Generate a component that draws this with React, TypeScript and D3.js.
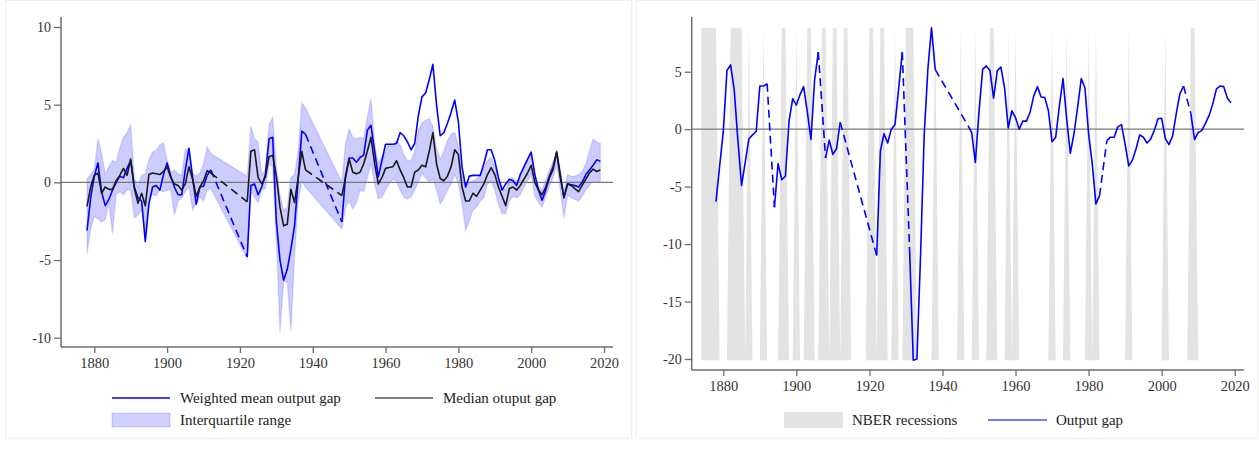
import { useEffect, useRef } from 'react';
import * as d3 from 'd3';

// annual series start in 1878 and run to 2019, null = no data for that year
const firstYear = 1878;

// weighted mean output gap across countries
const meanGap: (number | null)[] = [
  -3.1, -1.0,
  0.4, 1.25, -0.6, -1.5, -1.1, -0.5, 0.0, 0.4, 0.3, 0.9,
  1.4, -0.3, -1.0, -1.2, -3.8, -1.4, -0.3, -0.2, -0.5, 0.5,
  1.25, 0.4, -0.3, -0.8, -0.8, 0.8, 2.2, 0.3, -1.4, -0.3,
  -0.25, 0.45, 0.8, null, null, null, null, null, null, null,
  null, null, -4.8, -0.2, -0.1, -0.8, -0.3, 0.5, 2.8, 2.9,
  -2.5, -5.0, -6.3, -5.6, -4.3, -2.8, 0.2, 3.3, 3.1, null,
  null, null, null, null, null, null, null, null, -2.55, 0.4,
  1.57, 1.57, 1.3, 1.6, 1.75, 3.35, 3.67, 2.0, 0.35, 1.4,
  2.45, 2.45, 2.45, 2.5, 3.2, 3.0, 2.6, 2.1, 2.5, 4.3,
  5.5, 5.75, 6.6, 7.6, 5.0, 3.0, 3.2, 3.8, 4.5, 5.3,
  3.9, 1.0, -0.3, 0.4, 0.45, 0.45, 0.45, 1.2, 2.1, 2.1,
  1.4, 0.3, -0.5, -0.1, 0.2, 0.1, -0.2, 0.5, 1.0, 1.5,
  1.95, 0.5, -0.5, -1.15, -0.5, 0.3, 0.8, 1.95, 0.5, -1.0,
  -0.1, -0.15, -0.2, -0.3, 0.0, 0.5, 0.8, 1.1, 1.45, 1.35,
];

// median output gap
const medianGap: (number | null)[] = [
  -1.55, -0.3,
  0.45, 0.6, -0.7, -0.3, -0.45, -0.45, 0.1, 0.45, 0.9, 0.45,
  1.5, -0.4, -1.35, -0.7, -1.5, 0.5, 0.6, 0.55, 0.5, 0.7,
  1.0, 0.3, -0.1, -0.2, -0.5, -0.1, 1.0, 0.2, -0.9, -0.3,
  0.1, 0.75, 0.6, null, null, null, null, null, null, null,
  null, null, -1.25, 2.0, 2.1, 0.3, -0.1, 0.35, 1.65, 1.75,
  0.4, -1.6, -2.8, -2.7, -0.45, -1.3, 0.3, 2.0, 0.8, null,
  null, null, null, null, null, null, null, null, -0.85, 0.3,
  1.5, 0.65, 0.55, 0.65, 1.2, 2.0, 2.9, 1.2, -0.1, 0.3,
  0.9, 0.95, 1.0, 1.4, 0.8, 0.3, -0.3, -0.3, 0.65, 0.8,
  1.1, 1.0, 2.0, 3.2, 1.2, 0.25, 0.1, 0.4, 1.0, 2.1,
  1.8, -0.3, -1.2, -1.2, -0.7, -0.9, -0.5, -0.1, 0.5, 0.95,
  0.5, -0.3, -0.9, -1.5, -0.4, -0.3, -0.5, -0.2, 0.2, 0.6,
  1.1, 0.0, -0.5, -0.8, -0.3, 0.4, 1.0, 1.95, 0.3, -0.95,
  -0.1, -0.2, -0.4, -0.6, -0.2, 0.2, 0.6, 0.85, 0.7, 0.8,
];

// interquartile range, 75th percentile
const iqrHigh: (number | null)[] = [
  0.2, 0.5,
  0.8, 2.8, 1.85, 0.55, 1.0, 1.4, 1.3, 2.2, 2.9, 3.2,
  3.7, 0.3, -0.3, 0.45, 0.55, 1.45, 1.95, 2.05, 2.4, 2.55,
  1.4, 0.65, 0.8, 0.55, 0.45, 2.15, 2.05, 0.6, 0.4, 0.6,
  1.2, 2.27, 1.85, null, null, null, null, null, null, null,
  null, null, 0.4, 3.6, 2.8, 2.6, 0.5, 0.8, 3.7, 4.2,
  1.0, -0.8, -1.8, -1.6, 0.3, 0.5, 2.0, 5.1, 4.8, null,
  null, null, null, null, null, null, null, null, 0.0, 2.5,
  3.45, 2.9, 2.8, 2.9, 2.8, 4.2, 5.4, 2.5, 1.2, 1.7,
  2.0, 2.5, 2.3, 2.7, 2.4, 1.8, 1.4, 1.4, 2.0, 3.35,
  3.8, 4.0, 4.1, 3.6, 2.2, 1.5, 2.0, 2.7, 3.1, 3.2,
  2.3, 0.4, -0.2, 0.0, 0.1, 0.2, 0.5, 0.9, 1.4, 1.6,
  1.0, 0.4, -0.3, -0.5, 0.2, 0.3, 0.0, 0.4, 1.0, 1.4,
  1.8, 0.6, -0.2, -0.5, 0.2, 0.8, 1.3, 2.1, 0.8, -0.6,
  0.5, 0.4, 0.4, 0.5, 0.7, 1.2, 2.0, 2.8, 2.6, 2.5,
];

// interquartile range, 25th percentile
const iqrLow: (number | null)[] = [
  -4.6, -3.0,
  -2.2, -2.35, -2.55, -2.4, -1.3, -3.3, -0.8, -0.6, -0.8, -0.5,
  -0.5, -2.3, -2.1, -1.8, -3.2, -0.95, -0.8, -0.85, -0.5, -0.6,
  -0.5, -0.5, -2.1, -1.2, -1.0, -0.6, -0.3, -1.8, -1.4, -0.95,
  -1.2, -0.5, -0.4, null, null, null, null, null, null, null,
  null, null, -4.9, -0.5, -0.95, -1.3, -0.5, -0.4, 1.2, 1.0,
  -3.7, -9.6, -6.4, -6.4, -9.6, -4.8, -1.2, 0.1, -0.3, null,
  null, null, null, null, null, null, null, null, -3.0, -1.6,
  -1.2, -1.7, -1.3, -0.5, -0.6, 0.3, 1.2, -0.1, -1.05, -0.95,
  -0.5, -0.1, 0.2, 0.1, -0.5, -0.95, -1.05, -0.95, -0.5, 0.0,
  0.6, 0.3, 0.0, 0.2, -0.5, -1.4, -1.0, -0.5, -0.1, 0.5,
  -0.1, -1.4, -3.1, -2.5, -1.8, -1.6, -1.2, -1.0, -0.1, 0.1,
  -0.5, -1.4, -2.0, -2.0, -1.2, -0.9, -1.0, -0.8, -0.3, 0.1,
  0.5, -0.9, -1.3, -1.6, -0.9, -0.3, 0.3, 1.2, -0.5, -2.3,
  -0.8, -1.0, -1.1, -1.2, -0.9, -0.5, -0.2, 0.1, 0.0, 0.0,
];

// US output gap
const usGap: (number | null)[] = [
  -6.3, -3.2,
  -0.2, 5.1, 5.6, 3.4, -1.0, -4.9, -2.9, -0.85, -0.5, -0.2,
  3.75, 3.75, 3.95, null, -6.8, -3.0, -4.4, -4.1, 0.7, 2.65,
  2.1, 3.0, 3.7, 1.5, -0.9, 4.3, 6.7, null, -2.5, -0.95,
  -2.2, -1.7, 0.6, null, null, null, null, null, null, null,
  null, null, -11.0, -1.9, -0.4, -1.2, 0.0, 0.4, 3.5, 6.7,
  null, -10.5, -20.1, -20.0, -11.0, -0.5, 5.2, 8.83, 5.2, null,
  null, null, null, null, null, null, null, 0.3, -0.3, -2.9,
  1.5, 5.2, 5.5, 5.1, 2.7, 5.1, 5.4, 3.6, 0.1, 1.6,
  1.0, 0.0, 0.7, 0.7, 1.5, 2.9, 3.7, 2.8, 2.75, 1.6,
  -1.1, -0.7, 2.0, 4.4, 0.9, -2.1, -0.4, 1.9, 4.4, 3.6,
  -0.4, -3.0, -6.5, -5.8, null, -1.0, -0.7, -0.7, 0.2, 0.4,
  -1.3, -3.2, -2.7, -1.7, -0.5, -0.7, -1.2, -0.85, -0.1, 0.9,
  0.95, -0.8, -1.35, -0.6, 1.35, 3.1, 3.75, null, 1.35, -0.9,
  -0.3, -0.1, 0.5, 1.2, 2.2, 3.5, 3.75, 3.7, 2.7, 2.3,
];

// years flagged as NBER recession years (annual indicator)
const recessionFirstYear = 1874;
const recessionYears = [
  1874, 1875, 1876, 1877, 1878, 1882, 1883, 1884, 1885, 1887, 1891, 1896, 1897,
  1900, 1903, 1904, 1907, 1908, 1910, 1911, 1913, 1914, 1920, 1921, 1923, 1924,
  1927, 1930, 1931, 1932, 1938, 1945, 1949, 1953, 1954, 1958, 1960, 1970, 1974,
  1980, 1982, 1991, 2001, 2008, 2009,
];

const xTicks = [1880, 1900, 1920, 1940, 1960, 1980, 2000, 2020];
const leftYTicks = [-10, -5, 0, 5, 10];
const rightYTicks = [-20, -15, -10, -5, 0, 5];

type Pt = { year: number; v: number | null };
const toPoints = (vals: (number | null)[]): Pt[] =>
  vals.map((v, i) => ({ year: firstYear + i, v }));

// pairs of defined points that straddle a run of missing years
const gapSegments = (pts: Pt[]) => {
  const segs: [Pt, Pt][] = [];
  let last: Pt | null = null;
  let gap = false;
  pts.forEach((p) => {
    if (p.v == null) {
      if (last) gap = true;
    } else {
      if (gap && last) segs.push([last, p]);
      last = p;
      gap = false;
    }
  });
  return segs;
};

const serif = "'Liberation Serif', 'Times New Roman', serif";

const App = () => {
  const svgRef = useRef<SVGSVGElement>(null);

  useEffect(() => {
    if (!svgRef.current) return;
    const svg = d3.select(svgRef.current);
    svg.selectAll('*').remove();

    // panel frames
    svg.append('rect').attr('x', 5.5).attr('y', 0.5).attr('width', 626).attr('height', 438)
      .attr('fill', 'none').attr('stroke', '#efefef');
    svg.append('rect').attr('x', 636.5).attr('y', 0.5).attr('width', 621).attr('height', 438)
      .attr('fill', 'none').attr('stroke', '#efefef');

    const drawAxes = (
      g: d3.Selection<SVGGElement, unknown, null, undefined>,
      x: d3.ScaleLinear<number, number>,
      y: d3.ScaleLinear<number, number>,
      yTicks: number[],
      axisLeft: number,
      axisRight: number,
      axisTop: number,
      axisBottom: number
    ) => {
      // zero reference line
      g.append('line')
        .attr('x1', axisLeft).attr('x2', axisRight)
        .attr('y1', y(0)).attr('y2', y(0))
        .attr('stroke', '#7a7a7a').attr('stroke-width', 1.2);

      const yAxis = g.append('g').attr('transform', `translate(${axisLeft},0)`)
        .call(d3.axisLeft(y).tickValues(yTicks).tickSize(7).tickPadding(3).tickFormat((d) => String(d)));
      yAxis.select('.domain').attr('d', `M0,${axisTop}V${axisBottom}`);
      const xAxis = g.append('g').attr('transform', `translate(0,${axisBottom})`)
        .call(d3.axisBottom(x).tickValues(xTicks).tickSize(6).tickPadding(5).tickFormat((d) => String(d)));
      xAxis.select('.domain').attr('d', `M${axisLeft},0H${axisRight}`);
      [yAxis, xAxis].forEach((a) => {
        a.select('.domain').attr('stroke', '#6e6e6e').attr('stroke-width', 1.5);
        a.selectAll('.tick line').attr('stroke', '#6e6e6e').attr('stroke-width', 1.3);
        a.selectAll('.tick text').attr('font-family', serif).attr('font-size', 14).attr('fill', '#333');
      });
      xAxis.selectAll('.tick text').attr('font-size', 14.5);
    };

    const drawSeries = (
      g: d3.Selection<SVGGElement, unknown, null, undefined>,
      pts: Pt[],
      x: d3.ScaleLinear<number, number>,
      y: d3.ScaleLinear<number, number>,
      color: string,
      width: number
    ) => {
      const line = d3.line<Pt>().defined((d) => d.v != null)
        .x((d) => x(d.year)).y((d) => y(d.v as number));
      g.append('path').datum(pts).attr('d', line)
        .attr('fill', 'none').attr('stroke', color).attr('stroke-width', width)
        .attr('stroke-linejoin', 'round');
      g.selectAll(null).data(gapSegments(pts)).enter().append('line')
        .attr('x1', (d) => x(d[0].year)).attr('y1', (d) => y(d[0].v as number))
        .attr('x2', (d) => x(d[1].year)).attr('y2', (d) => y(d[1].v as number))
        .attr('stroke', color).attr('stroke-width', width)
        .attr('stroke-dasharray', '8,5');
    };

    // ---------- left panel: cross-country output gaps ----------
    const left = svg.append('g');
    const xL = d3.scaleLinear().domain([1880, 2020]).range([94.3, 604]);
    const yL = d3.scaleLinear().domain([-10, 10]).range([337.7, 27]);

    const band = meanGap.map((_, i) => ({
      year: firstYear + i, lo: iqrLow[i], hi: iqrHigh[i],
    })).filter((d) => d.lo != null && d.hi != null);
    const area = d3.area<{ year: number; lo: number | null; hi: number | null }>()
      .x((d) => xL(d.year)).y0((d) => yL(d.lo as number)).y1((d) => yL(d.hi as number));
    left.append('path').datum(band).attr('d', area)
      .attr('fill', '#0000ff').attr('fill-opacity', 0.2)
      .attr('stroke', '#0000ff').attr('stroke-opacity', 0.12).attr('stroke-width', 1.5);

    drawAxes(left, xL, yL, leftYTicks, 61, 613, 17, 347);
    drawSeries(left, toPoints(meanGap), xL, yL, '#0000ff', 1.6);
    drawSeries(left, toPoints(medianGap), xL, yL, '#1a1a1a', 1.6);

    // legend
    const legL = left.append('g').attr('font-family', serif).attr('font-size', 15).attr('fill', '#222');
    legL.append('line').attr('x1', 112).attr('x2', 170).attr('y1', 398).attr('y2', 398)
      .attr('stroke', '#0000ff').attr('stroke-width', 1.6);
    legL.append('text').attr('x', 180).attr('y', 398).attr('dy', '0.33em').text('Weighted mean output gap');
    legL.append('line').attr('x1', 375).attr('x2', 433).attr('y1', 398).attr('y2', 398)
      .attr('stroke', '#555').attr('stroke-width', 1.6);
    legL.append('text').attr('x', 443).attr('y', 398).attr('dy', '0.33em').text('Median otuput gap');
    legL.append('rect').attr('x', 112).attr('y', 413).attr('width', 58).attr('height', 14)
      .attr('fill', '#0000ff').attr('fill-opacity', 0.18)
      .attr('stroke', '#0000ff').attr('stroke-opacity', 0.15);
    legL.append('text').attr('x', 180).attr('y', 420).attr('dy', '0.33em').text('Interquartile range');

    // ---------- right panel: US output gap and NBER recessions ----------
    const right = svg.append('g');
    const xR = d3.scaleLinear().domain([1880, 2020]).range([723.3, 1234.7]);
    const yR = d3.scaleLinear().domain([-20, 5]).range([359, 71.7]);

    const [gapMin, gapMax] = d3.extent(usGap.filter((v) => v != null) as number[]) as [number, number];
    const recSet = new Set(recessionYears);
    const recRows = usGap.map((_, i) => firstYear + i);
    const recYears = [
      ...d3.range(recessionFirstYear, firstYear),
      ...recRows,
    ].map((year) => ({ year, on: recSet.has(year) }));
    const recArea = d3.area<{ year: number; on: boolean }>()
      .x((d) => xR(d.year)).y0(yR(gapMin)).y1((d) => yR(d.on ? gapMax : gapMin));
    right.append('path').datum(recYears).attr('d', recArea)
      .attr('fill', '#e3e3e3').attr('stroke', 'none');

    drawAxes(right, xR, yR, rightYTicks, 691.7, 1244, 17, 370);
    drawSeries(right, toPoints(usGap), xR, yR, '#0000ff', 1.6);

    const legR = right.append('g').attr('font-family', serif).attr('font-size', 15).attr('fill', '#222');
    legR.append('rect').attr('x', 784).attr('y', 412).attr('width', 59).attr('height', 16)
      .attr('fill', '#e3e3e3');
    legR.append('text').attr('x', 852).attr('y', 420).attr('dy', '0.33em').text('NBER recessions');
    legR.append('line').attr('x1', 988).attr('x2', 1047).attr('y1', 420).attr('y2', 420)
      .attr('stroke', '#4d4dff').attr('stroke-width', 1.6);
    legR.append('text').attr('x', 1056).attr('y', 420).attr('dy', '0.33em').text('Output gap');
  }, []);

  return (
    <svg
      ref={svgRef}
      width={1259}
      height={456}
      style={{ position: 'absolute', left: 0, top: 0, background: '#fff' }}
    />
  );
};

export default App;
